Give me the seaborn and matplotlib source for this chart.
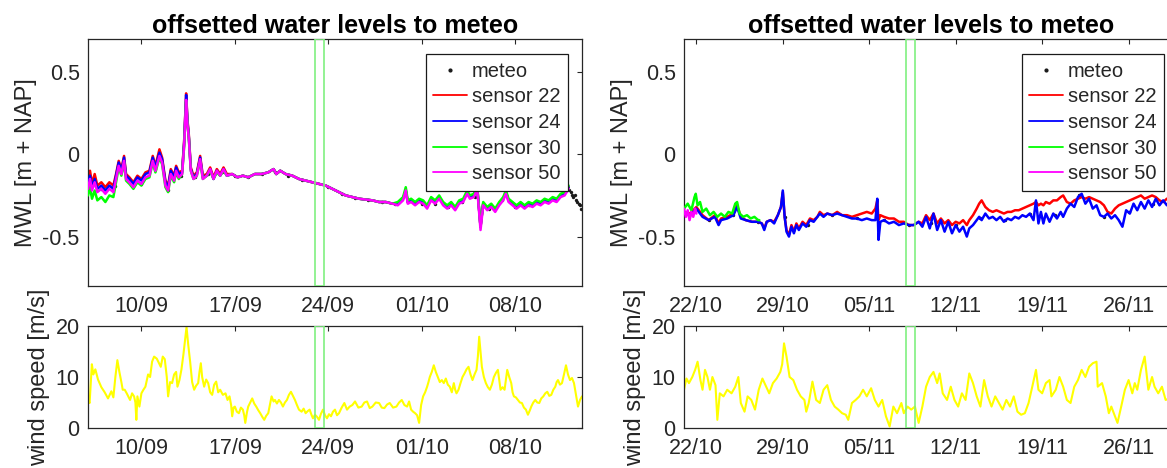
import numpy as np
import pandas as pd
import matplotlib
matplotlib.use("Agg")
import matplotlib.pyplot as plt
import matplotlib.dates as mdates
from matplotlib.lines import Line2D
import seaborn as sns

# ---------------- data ----------------
LEFT_START, LEFT_END = "2017-09-06", "2017-10-13"
RIGHT_START, RIGHT_END = "2017-10-21", "2017-11-30"
left_ticks = ["2017-09-10", "2017-09-17", "2017-09-24", "2017-10-01", "2017-10-08"]
right_ticks = ["2017-10-22", "2017-10-29", "2017-11-05", "2017-11-12", "2017-11-19", "2017-11-26"]
left_window = ["2017-09-23 00:00", "2017-09-23 16:00"]
right_window = ["2017-11-08 00:00", "2017-11-08 16:00"]

wl_yticks = [-0.5, 0, 0.5]
wl_yticklabels = ["-0.5", "0", "0.5"]
ws_yticks = [0, 10, 20]
ws_yticklabels = ["0", "10", "20"]

sensor_names = ["sensor 22", "sensor 24", "sensor 30", "sensor 50"]
sensor_colors = ["#ff0000", "#0000ff", "#00ff00", "#ff00ff"]

# left period: days since 6 Sept
wl_day = [0.0, 0.15, 0.3, 0.5, 0.7, 1.0, 1.3, 1.6, 1.9, 2.1,
          2.3, 2.5, 2.7, 2.85, 3.1, 3.4, 3.7, 4.0, 4.3, 4.6,
          4.85, 5.05, 5.35, 5.55, 5.8, 6.0, 6.2, 6.45, 6.6, 6.8,
          7.05, 7.2, 7.35, 7.45, 7.55, 7.7, 7.9, 8.15, 8.4, 8.6,
          8.9, 9.15, 9.4, 9.65, 9.9, 10.15, 10.4, 10.8, 11.2, 11.6,
          12.0, 12.5, 13.0, 13.5, 13.9, 14.1, 14.4, 14.8, 15.3, 15.8,
          16.3, 16.8, 17.3, 17.8, 18.3, 18.8, 19.3, 19.8, 20.3, 20.8,
          21.3, 21.8, 22.3, 22.8, 23.2, 23.6, 23.8, 23.95, 24.2, 24.5,
          24.8, 25.1, 25.4, 25.7, 26.0, 26.3, 26.6, 26.9, 27.2, 27.5,
          27.8, 28.1, 28.4, 28.6, 28.9, 29.15, 29.4, 29.6, 29.9, 30.2,
          30.5, 30.8, 31.1, 31.3, 31.5, 31.8, 32.1, 32.4, 32.7, 33.0,
          33.3, 33.6, 33.9, 34.2, 34.5, 34.8, 35.1, 35.4, 35.7, 36.0]
wl_s22 = [-0.17, -0.10, -0.18, -0.12, -0.19, -0.17, -0.20, -0.17, -0.19, -0.12,
          -0.04, -0.09, -0.01, -0.12, -0.14, -0.17, -0.13, -0.15, -0.11, -0.10,
          -0.01, -0.07, 0.03, -0.02, -0.16, -0.19, -0.09, -0.13, -0.07, -0.11,
          -0.10, 0.08, 0.37, 0.21, 0.12, -0.08, -0.13, -0.11, -0.01, -0.13,
          -0.12, -0.08, -0.14, -0.09, -0.12, -0.08, -0.12, -0.12, -0.14, -0.13,
          -0.14, -0.12, -0.12, -0.11, -0.09, -0.12, -0.10, -0.12, -0.13, -0.15,
          -0.16, -0.17, -0.18, -0.19, -0.21, -0.23, -0.25, -0.26, -0.27, -0.275,
          -0.28, -0.29, -0.29, -0.30, -0.30, -0.27, -0.22, -0.29, -0.28, -0.30,
          -0.28, -0.29, -0.32, -0.27, -0.29, -0.26, -0.30, -0.32, -0.30, -0.33,
          -0.29, -0.28, -0.23, -0.26, -0.25, -0.20, -0.44, -0.30, -0.33, -0.31,
          -0.34, -0.30, -0.27, -0.23, -0.28, -0.30, -0.32, -0.30, -0.32, -0.30,
          -0.31, -0.29, -0.30, -0.28, -0.29, -0.27, -0.28, -0.25, -0.24, -0.20]
wl_s24 = [-0.19, -0.13, -0.20, -0.15, -0.21, -0.19, -0.22, -0.19, -0.21, -0.13,
          -0.05, -0.10, -0.02, -0.13, -0.15, -0.18, -0.14, -0.16, -0.12, -0.11,
          -0.02, -0.08, 0.01, -0.03, -0.17, -0.20, -0.10, -0.14, -0.08, -0.12,
          -0.11, 0.07, 0.36, 0.20, 0.11, -0.09, -0.14, -0.12, -0.02, -0.14,
          -0.13, -0.09, -0.15, -0.10, -0.13, -0.09, -0.13, -0.12, -0.14, -0.13,
          -0.14, -0.12, -0.12, -0.11, -0.09, -0.12, -0.10, -0.12, -0.13, -0.15,
          -0.16, -0.17, -0.18, -0.19, -0.21, -0.23, -0.25, -0.26, -0.27, -0.275,
          -0.28, -0.29, -0.29, -0.30, -0.30, -0.27, -0.22, -0.29, -0.28, -0.30,
          -0.28, -0.29, -0.32, -0.27, -0.29, -0.26, -0.30, -0.32, -0.30, -0.33,
          -0.29, -0.28, -0.23, -0.26, -0.25, -0.20, -0.44, -0.30, -0.33, -0.31,
          -0.34, -0.30, -0.27, -0.23, -0.28, -0.30, -0.32, -0.30, -0.32, -0.30,
          -0.31, -0.29, -0.30, -0.28, -0.29, -0.27, -0.28, -0.25, -0.24, -0.20]
wl_s30 = [-0.25, -0.20, -0.27, -0.22, -0.28, -0.26, -0.29, -0.25, -0.26, -0.17,
          -0.08, -0.13, -0.05, -0.16, -0.18, -0.21, -0.17, -0.19, -0.15, -0.14,
          -0.05, -0.11, -0.02, -0.06, -0.20, -0.23, -0.13, -0.17, -0.11, -0.15,
          -0.12, 0.05, 0.32, 0.18, 0.10, -0.10, -0.15, -0.13, -0.04, -0.15,
          -0.13, -0.10, -0.15, -0.11, -0.13, -0.10, -0.13, -0.12, -0.14, -0.13,
          -0.14, -0.12, -0.12, -0.11, -0.09, -0.12, -0.10, -0.12, -0.13, -0.15,
          -0.16, -0.17, -0.18, -0.19, -0.21, -0.23, -0.25, -0.26, -0.27, -0.275,
          -0.28, -0.29, -0.29, -0.30, -0.29, -0.26, -0.20, -0.28, -0.27, -0.29,
          -0.27, -0.28, -0.31, -0.26, -0.28, -0.25, -0.29, -0.31, -0.29, -0.32,
          -0.28, -0.27, -0.22, -0.25, -0.24, -0.19, -0.44, -0.29, -0.32, -0.30,
          -0.33, -0.29, -0.26, -0.22, -0.27, -0.29, -0.31, -0.29, -0.31, -0.29,
          -0.30, -0.28, -0.29, -0.27, -0.28, -0.26, -0.27, -0.24, -0.23, -0.19]
wl_s50 = [-0.21, -0.15, -0.22, -0.17, -0.23, -0.21, -0.24, -0.21, -0.23, -0.15,
          -0.07, -0.12, -0.04, -0.15, -0.17, -0.20, -0.16, -0.18, -0.14, -0.13,
          -0.04, -0.10, -0.01, -0.05, -0.19, -0.22, -0.12, -0.16, -0.10, -0.14,
          -0.12, 0.05, 0.33, 0.18, 0.10, -0.10, -0.15, -0.13, -0.03, -0.15,
          -0.13, -0.09, -0.15, -0.10, -0.13, -0.09, -0.13, -0.12, -0.14, -0.13,
          -0.14, -0.12, -0.12, -0.11, -0.09, -0.12, -0.10, -0.12, -0.13, -0.15,
          -0.16, -0.17, -0.18, -0.19, -0.21, -0.23, -0.25, -0.26, -0.27, -0.275,
          -0.28, -0.29, -0.29, -0.30, -0.31, -0.28, -0.22, -0.30, -0.29, -0.31,
          -0.29, -0.30, -0.33, -0.28, -0.30, -0.27, -0.31, -0.33, -0.31, -0.34,
          -0.30, -0.29, -0.24, -0.27, -0.26, -0.21, -0.46, -0.31, -0.34, -0.32,
          -0.35, -0.31, -0.28, -0.24, -0.29, -0.31, -0.33, -0.31, -0.33, -0.31,
          -0.32, -0.30, -0.31, -0.29, -0.30, -0.28, -0.29, -0.26, -0.25, -0.21]
meteo_left_day = [0, 1, 2, 3, 4, 5, 6, 7, 8, 9, 10, 11, 12, 13, 14, 15, 16, 17, 18,
                  19, 20, 21, 22, 23, 24, 25, 26, 27, 28, 29, 30, 31, 32, 33, 34, 35,
                  36.05, 36.15, 36.25, 36.35, 36.45, 36.55, 36.65, 36.75, 36.85, 36.95]
meteo_left = [-0.21, -0.21, -0.19, -0.16, -0.18, -0.09, -0.22, -0.13, -0.14, -0.12,
              -0.11, -0.13, -0.14, -0.12, -0.11, -0.13, -0.155, -0.175, -0.20, -0.24,
              -0.265, -0.28, -0.29, -0.30, -0.29, -0.30, -0.30, -0.32, -0.29, -0.26,
              -0.33, -0.28, -0.32, -0.31, -0.29, -0.28,
              -0.22, -0.23, -0.25, -0.26, -0.25, -0.28, -0.29, -0.30, -0.31, -0.33]
wind_left = [(0, 5.5), (0.12, 4.9), (0.29, 12.5), (0.4, 10.5), (0.55, 11.5), (0.75, 9.5),
             (1.0, 8.0), (1.25, 7.0), (1.5, 5.8), (1.75, 7.2), (1.9, 6.0), (2.05, 10.0),
             (2.2, 13.3), (2.35, 11.0), (2.5, 9.0), (2.6, 7.5), (2.75, 7.5), (2.9, 6.8),
             (3.15, 5.5), (3.3, 6.8), (3.45, 6.2), (3.55, 5.0), (3.62, 1.6), (3.7, 6.2),
             (3.85, 4.2), (4.0, 6.8), (4.15, 7.5), (4.3, 8.1), (4.5, 10.5), (4.65, 10.0),
             (4.8, 13.0), (4.95, 14.0), (5.15, 13.6), (5.3, 12.8), (5.45, 12.0), (5.6, 14.0),
             (5.75, 13.5), (5.9, 10.0), (6.0, 6.2), (6.15, 9.0), (6.3, 8.8), (6.45, 10.5),
             (6.6, 11.0), (6.7, 8.1), (6.85, 9.4), (7.0, 11.5), (7.15, 14.5), (7.3, 18.0),
             (7.38, 19.8), (7.5, 16.5), (7.65, 13.0), (7.8, 9.0), (7.95, 7.5), (8.1, 8.3),
             (8.25, 8.8), (8.35, 11.0), (8.45, 12.7), (8.55, 10.0), (8.7, 8.1), (8.85, 9.5),
             (9.0, 8.8), (9.15, 7.0), (9.3, 6.5), (9.45, 8.5), (9.6, 9.1), (9.75, 7.0),
             (9.9, 7.5), (10.1, 6.5), (10.3, 6.8), (10.45, 5.5), (10.6, 6.2), (10.72, 4.5),
             (10.8, 2.3), (10.9, 4.0), (11.0, 4.2), (11.15, 3.2), (11.3, 2.9), (11.45, 4.0),
             (11.6, 3.6), (11.7, 2.5), (11.78, 1.0), (11.9, 3.0), (12.0, 4.2), (12.15, 5.0),
             (12.3, 5.8), (12.45, 4.8), (12.6, 4.2), (12.75, 3.5), (12.9, 2.9), (13.05, 2.2),
             (13.2, 1.6), (13.35, 2.4), (13.5, 2.9), (13.62, 4.5), (13.75, 6.2), (13.9, 5.2),
             (14.0, 5.5), (14.15, 4.8), (14.3, 5.5), (14.45, 5.0), (14.6, 4.2), (14.75, 5.0),
             (14.9, 5.5), (15.05, 6.5), (15.2, 7.1), (15.35, 6.3), (15.5, 5.5), (15.65, 4.5),
             (15.8, 3.6), (16.0, 3.2), (16.15, 3.8), (16.3, 2.9), (16.45, 3.3), (16.6, 3.6),
             (16.75, 2.5), (16.85, 1.9), (17.0, 2.6), (17.15, 2.2), (17.3, 1.6), (17.45, 2.8),
             (17.6, 3.6), (17.75, 2.5), (17.9, 1.9), (18.05, 2.7), (18.2, 2.3), (18.35, 3.2),
             (18.5, 3.6), (18.65, 2.5), (18.8, 2.9), (19.0, 4.0), (19.2, 4.9), (19.4, 3.6),
             (19.6, 4.2), (19.8, 4.5), (20.0, 5.2), (20.25, 4.0), (20.5, 4.2), (20.7, 5.0),
             (20.9, 5.2), (21.1, 3.9), (21.3, 4.2), (21.55, 5.0), (21.8, 4.9), (22.0, 4.0),
             (22.2, 3.9), (22.4, 4.6), (22.6, 4.9), (22.85, 4.0), (23.1, 4.2), (23.3, 5.0),
             (23.5, 5.5), (23.7, 4.5), (23.9, 4.2), (24.05, 5.2), (24.2, 3.6), (24.35, 3.2),
             (24.5, 2.9), (24.65, 2.5), (24.8, 1.0), (24.95, 4.5), (25.1, 6.2), (25.25, 7.0),
             (25.4, 8.1), (25.5, 9.0), (25.6, 10.0), (25.75, 11.0), (25.9, 12.3), (26.05, 11.0),
             (26.2, 10.0), (26.35, 9.0), (26.5, 9.4), (26.65, 8.8), (26.8, 9.7), (26.95, 8.5),
             (27.1, 8.1), (27.25, 7.0), (27.4, 8.8), (27.5, 7.5), (27.6, 6.8), (27.75, 7.5),
             (27.9, 8.8), (28.05, 10.0), (28.2, 10.7), (28.35, 11.5), (28.5, 12.0), (28.65, 10.5),
             (28.8, 9.4), (28.95, 10.5), (29.1, 11.4), (29.2, 14.0), (29.3, 17.9), (29.4, 15.0),
             (29.5, 12.0), (29.65, 10.0), (29.8, 8.8), (29.95, 8.0), (30.1, 7.5), (30.25, 8.5),
             (30.4, 10.0), (30.55, 10.8), (30.7, 11.4), (30.8, 9.5), (30.9, 7.5), (31.05, 8.0),
             (31.2, 7.5), (31.3, 9.5), (31.4, 11.4), (31.55, 10.0), (31.7, 8.8), (31.8, 7.0),
             (31.9, 6.2), (32.05, 6.0), (32.2, 5.5), (32.35, 5.0), (32.5, 4.9), (32.65, 4.0),
             (32.8, 3.6), (32.95, 2.6), (33.1, 3.5), (33.2, 4.2), (33.35, 5.0), (33.5, 5.5),
             (33.65, 5.0), (33.8, 4.9), (33.95, 5.8), (34.1, 6.2), (34.25, 6.8), (34.4, 7.1),
             (34.55, 6.3), (34.7, 6.5), (34.85, 7.5), (35.0, 8.1), (35.1, 9.0), (35.2, 9.4),
             (35.35, 8.5), (35.5, 8.8), (35.65, 10.5), (35.8, 12.3), (35.95, 10.5), (36.1, 9.4),
             (36.25, 9.8), (36.4, 8.8), (36.55, 6.5), (36.7, 4.2), (36.85, 5.5), (37.0, 6.2)]

# right period: days since 21 Oct
wr_day = [0.0, 0.5, 1.0, 1.5, 2.0, 2.5, 2.8, 3.0, 3.5, 4.0,
          4.3, 4.6, 5.0, 5.5, 6.0, 6.3, 6.5, 6.7, 7.0, 7.3,
          7.6, 7.85, 8.0, 8.15, 8.3, 8.5, 8.7, 8.9, 9.1, 9.3,
          9.6, 9.9, 10.2, 10.5, 10.8, 11.0, 11.3, 11.6, 12.0, 12.4,
          12.8, 13.2, 13.6, 14.0, 14.4, 14.8, 15.2, 15.5, 15.65, 15.75,
          15.9, 16.2, 16.6, 17.0, 17.4, 17.8, 18.2, 18.6, 19.0, 19.3,
          19.6, 19.9, 20.2, 20.5, 20.8, 21.1, 21.4, 21.7, 22.0, 22.3,
          22.6, 22.9, 23.1, 23.4, 23.7, 23.9, 24.1, 24.4, 24.7, 25.0,
          25.3, 25.6, 25.9, 26.2, 26.5, 26.8, 27.1, 27.4, 27.7, 28.0,
          28.3, 28.5, 28.7, 28.9, 29.1, 29.3, 29.6, 29.9, 30.2, 30.5,
          30.7, 31.0, 31.3, 31.6, 31.9, 32.2, 32.5, 32.8, 33.1, 33.4,
          33.7, 34.0, 34.3, 34.6, 34.9, 35.2, 35.5, 35.8, 36.1, 36.4,
          36.7, 37.0, 37.3, 37.6, 37.9, 38.2, 38.5, 38.8, 39.1, 39.5,
          40.0]
wr_s22 = [-0.35, -0.36, -0.32, -0.37, -0.40, -0.37, -0.42, -0.39, -0.38, -0.36,
          -0.31, -0.38, -0.40, -0.41, -0.41, -0.42, -0.45, -0.41, -0.40, -0.41,
          -0.37, -0.32, -0.23, -0.38, -0.46, -0.49, -0.43, -0.47, -0.42, -0.45,
          -0.41, -0.43, -0.39, -0.40, -0.38, -0.35, -0.37, -0.36, -0.37, -0.35,
          -0.37, -0.37, -0.38, -0.37, -0.36, -0.35, -0.36, -0.33, -0.28, -0.40,
          -0.37, -0.38, -0.39, -0.39, -0.41, -0.41, -0.43, -0.43, -0.41, -0.42,
          -0.37, -0.40, -0.36, -0.42, -0.39, -0.42, -0.40, -0.43, -0.41, -0.42,
          -0.40, -0.43, -0.40, -0.37, -0.33, -0.30, -0.28, -0.32, -0.34, -0.35,
          -0.34, -0.35, -0.36, -0.35, -0.35, -0.34, -0.34, -0.33, -0.32, -0.31,
          -0.30, -0.29, -0.31, -0.30, -0.31, -0.29, -0.30, -0.28, -0.28, -0.26,
          -0.25, -0.29, -0.30, -0.28, -0.27, -0.26, -0.27, -0.26, -0.27, -0.28,
          -0.29, -0.31, -0.35, -0.36, -0.33, -0.31, -0.30, -0.29, -0.28, -0.27,
          -0.26, -0.25, -0.27, -0.26, -0.25, -0.26, -0.28, -0.29, -0.27, -0.26,
          -0.27]
wr_s24 = [-0.36, -0.37, -0.33, -0.38, -0.40, -0.38, -0.43, -0.40, -0.39, -0.37,
          -0.32, -0.39, -0.40, -0.41, -0.41, -0.42, -0.46, -0.41, -0.40, -0.42,
          -0.37, -0.32, -0.22, -0.38, -0.47, -0.50, -0.44, -0.48, -0.43, -0.46,
          -0.42, -0.44, -0.40, -0.41, -0.38, -0.36, -0.38, -0.36, -0.37, -0.36,
          -0.37, -0.38, -0.39, -0.39, -0.40, -0.39, -0.40, -0.40, -0.27, -0.52,
          -0.41, -0.40, -0.42, -0.41, -0.43, -0.42, -0.43, -0.43, -0.41, -0.44,
          -0.38, -0.45, -0.36, -0.46, -0.40, -0.47, -0.41, -0.48, -0.43, -0.47,
          -0.44, -0.50, -0.45, -0.43, -0.40, -0.38, -0.40, -0.36, -0.39, -0.38,
          -0.40, -0.38, -0.41, -0.39, -0.40, -0.38, -0.39, -0.37, -0.38, -0.36,
          -0.40, -0.28, -0.42, -0.35, -0.42, -0.36, -0.41, -0.36, -0.39, -0.35,
          -0.38, -0.33, -0.30, -0.32, -0.26, -0.24, -0.30, -0.27, -0.33, -0.31,
          -0.37, -0.38, -0.36, -0.39, -0.37, -0.40, -0.44, -0.34, -0.36, -0.30,
          -0.34, -0.29, -0.33, -0.28, -0.32, -0.27, -0.31, -0.28, -0.31, -0.29,
          -0.30]
wr30_day = [0, 0.3, 0.6, 0.85, 0.95, 1.1, 1.3, 1.5, 1.8, 2.1, 2.4, 2.7, 3.0,
            3.3, 3.6, 3.9, 4.15, 4.3, 4.5, 4.8, 5.1, 5.4, 5.7, 6.0, 6.1]
wr_s30 = [-0.33, -0.30, -0.34, -0.26, -0.24, -0.31, -0.29, -0.35, -0.33, -0.37, -0.35,
          -0.38, -0.36, -0.38, -0.35, -0.36, -0.30, -0.29, -0.36, -0.38, -0.37, -0.39,
          -0.38, -0.40, -0.40]
wr50_day = [0, 0.15, 0.3, 0.45, 0.6, 0.75, 0.9, 1.0]
wr_s50 = [-0.33, -0.38, -0.34, -0.40, -0.35, -0.38, -0.33, -0.36]
meteo_right_day = [0, 2, 4, 6, 8.15, 10, 12, 14, 16.2, 18.2, 20, 22, 24, 26, 28, 30,
                   32, 34, 36, 38, 40]
meteo_right = [-0.36, -0.40, -0.37, -0.41, -0.38, -0.43, -0.37, -0.39, -0.40, -0.43,
               -0.42, -0.43, -0.39, -0.40, -0.36, -0.37, -0.25, -0.38, -0.35, -0.30, -0.30]
wind_right_day = [0, 0.2, 0.4, 0.67, 0.9, 1.1, 1.33, 1.5, 1.7, 1.9,
                  2.1, 2.3, 2.55, 2.7, 2.9, 3.2, 3.5, 3.85, 4.15, 4.4,
                  4.6, 4.9, 5.15, 5.45, 5.75, 6.05, 6.35, 6.65, 6.9, 7.2,
                  7.5, 7.8, 7.95, 8.1, 8.3, 8.55, 8.85, 9.15, 9.45, 9.75,
                  9.9, 10.1, 10.4, 10.7, 11.0, 11.3, 11.6, 11.9, 12.2, 12.5,
                  12.8, 13.1, 13.3, 13.6, 13.9, 14.2, 14.5, 14.8, 15.15, 15.45,
                  15.75, 16.05, 16.35, 16.65, 16.95, 17.25, 17.6, 17.8, 18.1, 18.4,
                  18.7, 19.0, 19.3, 19.6, 19.9, 20.2, 20.5, 20.7, 20.95, 21.3,
                  21.6, 21.9, 22.2, 22.5, 22.8, 23.1, 23.4, 23.7, 24.0, 24.3,
                  24.6, 24.9, 25.2, 25.5, 25.8, 26.1, 26.4, 26.7, 27.0, 27.3,
                  27.6, 27.9, 28.2, 28.5, 28.7, 29.0, 29.3, 29.6, 29.75, 30.1,
                  30.4, 30.7, 31.0, 31.3, 31.6, 31.9, 32.2, 32.5, 32.8, 33.1,
                  33.4, 33.5, 33.85, 34.15, 34.4, 34.6, 34.9, 35.1, 35.4, 35.7,
                  36.0, 36.3, 36.5, 36.7, 37.0, 37.3, 37.6, 37.9, 38.1, 38.4,
                  38.7, 39.0, 39.5, 40.0]
wind_right_ms = [7.5, 9.7, 8.8, 10.0, 11.4, 13.0, 9.4, 7.5, 11.4, 10.0,
                 7.5, 10.0, 8.4, 1.6, 6.8, 6.2, 7.5, 6.8, 8.1, 10.0,
                 4.9, 3.2, 6.2, 5.5, 3.6, 7.5, 9.7, 8.1, 6.8, 8.8,
                 9.7, 11.0, 12.5, 16.6, 14.0, 10.0, 9.4, 7.5, 6.2, 5.5,
                 3.2, 4.9, 9.1, 5.5, 4.9, 7.5, 8.4, 5.5, 4.2, 3.6,
                 2.9, 2.6, 1.6, 4.9, 5.5, 6.2, 7.5, 6.2, 7.8, 5.5,
                 4.2, 5.5, 2.3, 0.3, 4.2, 2.9, 4.9, 2.9, 4.2, 3.6,
                 4.2, 1.0, 4.2, 8.1, 10.0, 11.0, 8.8, 10.7, 6.8, 5.5,
                 8.1, 5.5, 4.2, 6.8, 5.5, 10.7, 8.8, 6.2, 4.2, 9.4,
                 6.2, 4.2, 6.2, 4.9, 3.6, 5.5, 4.2, 6.2, 3.2, 2.6,
                 2.9, 4.9, 8.1, 11.4, 7.5, 6.8, 8.8, 9.4, 6.2, 7.5,
                 10.0, 8.1, 5.5, 4.9, 8.1, 9.4, 11.4, 10.0, 12.0, 12.7,
                 13.0, 8.1, 8.8, 6.2, 2.9, 4.2, 2.3, 1.0, 4.2, 7.5,
                 9.4, 6.8, 8.8, 7.5, 11.4, 14.0, 7.5, 10.0, 8.1, 6.8,
                 8.1, 5.5, 6.0, 7.0]

# ---------------- styling ----------------
GRAY = "#262626"
WINDOW_GREEN = "#80f080"
sns.set_theme(style="white")
plt.rcParams["font.family"] = ["Liberation Sans", "DejaVu Sans"]
plt.rcParams["axes.unicode_minus"] = False

W, H = 1167, 468
fig = plt.figure(figsize=(W / 100, H / 100), dpi=100)
fig.patch.set_facecolor("white")


def px_axes(x0, top, w, h):
    return fig.add_axes([x0 / W, 1 - (top + h) / H, w / W, h / H])


def to_time(start, days):
    return pd.Timestamp(start) + pd.to_timedelta(np.asarray(days, dtype=float), unit="D")


def style_axes(ax, start, end, ticks, ylim, yticks, yticklabels, ylabel):
    ax.set_xlim(pd.Timestamp(start), pd.Timestamp(end))
    ax.set_ylim(*ylim)
    ax.set_xticks(pd.to_datetime(ticks))
    ax.xaxis.set_major_formatter(mdates.DateFormatter("%d/%m"))
    ax.set_yticks(yticks)
    ax.set_yticklabels(yticklabels)
    ax.tick_params(direction="in", length=3.5, width=0.8, top=True, right=True,
                   colors=GRAY, labelsize=15.5)
    ax.tick_params(axis="x", pad=7)
    ax.tick_params(axis="y", pad=6)
    for s in ax.spines.values():
        s.set_color(GRAY)
        s.set_linewidth(0.9)
    ax.set_xlabel("")
    ax.set_ylabel(ylabel, fontsize=17, color=GRAY, labelpad=4)


def window(ax, span):
    ax.axvspan(pd.Timestamp(span[0]), pd.Timestamp(span[1]), facecolor="none",
               edgecolor=WINDOW_GREEN, linewidth=1.2, zorder=6)


def add_legend(ax):
    handles = [Line2D([], [], ls="none", marker=".", color="k", ms=4)]
    handles += [Line2D([], [], color=c, lw=1.3) for c in sensor_colors]
    leg = ax.legend(handles, ["meteo"] + sensor_names, loc="upper right",
                    bbox_to_anchor=(1 - 14 / 494, 1 - 15 / 247), borderaxespad=0,
                    frameon=True, fancybox=False, framealpha=1, edgecolor="k",
                    fontsize=14.5, handlelength=1.65, handletextpad=0.25,
                    labelspacing=0.33, borderpad=0.38)
    leg.get_frame().set_linewidth(0.9)
    leg.set_zorder(10)


def water_panel(ax, start, series, meteo_t, meteo_v):
    sns.scatterplot(x=to_time(start, meteo_t), y=meteo_v, ax=ax, color="k",
                    marker="o", s=6, linewidth=0, zorder=1)
    for z, (days, vals, color) in enumerate(series):
        sns.lineplot(x=to_time(start, days), y=vals, ax=ax, color=color,
                     linewidth=1.8, estimator=None, zorder=2 + z)


def wind_panel(ax, start, days, vals):
    sns.lineplot(x=to_time(start, days), y=vals, ax=ax, color="#ffff00",
                 linewidth=1.5, estimator=None)


ax_lt = px_axes(88, 39, 494, 247)
ax_lb = px_axes(88, 326, 494, 102)
ax_rt = px_axes(684, 39, 494, 247)
ax_rb = px_axes(684, 326, 494, 102)

# left column
water_panel(ax_lt, LEFT_START,
            [(wl_day, wl_s22, sensor_colors[0]), (wl_day, wl_s24, sensor_colors[1]),
             (wl_day, wl_s30, sensor_colors[2]), (wl_day, wl_s50, sensor_colors[3])],
            meteo_left_day, meteo_left)
wl_days, wl_ms = zip(*wind_left)
wind_panel(ax_lb, LEFT_START, wl_days, wl_ms)

# right column
water_panel(ax_rt, RIGHT_START,
            [(wr_day, wr_s22, sensor_colors[0]), (wr_day, wr_s24, sensor_colors[1]),
             (wr30_day, wr_s30, sensor_colors[2]), (wr50_day, wr_s50, sensor_colors[3])],
            meteo_right_day, meteo_right)
wind_panel(ax_rb, RIGHT_START, wind_right_day, wind_right_ms)

for ax_t, ax_b, (start, end, ticks, span) in [
        (ax_lt, ax_lb, (LEFT_START, LEFT_END, left_ticks, left_window)),
        (ax_rt, ax_rb, (RIGHT_START, RIGHT_END, right_ticks, right_window))]:
    style_axes(ax_t, start, end, ticks, (-0.8, 0.7), wl_yticks, wl_yticklabels, "MWL [m + NAP]")
    style_axes(ax_b, start, end, ticks, (0, 20), ws_yticks, ws_yticklabels, "wind speed [m/s]")
    ax_t.set_title("offsetted water levels to meteo", fontsize=18, fontweight="bold",
                   color="black", pad=4.5)
    window(ax_t, span)
    window(ax_b, span)
    add_legend(ax_t)

fig.savefig("out.png", dpi=100)
